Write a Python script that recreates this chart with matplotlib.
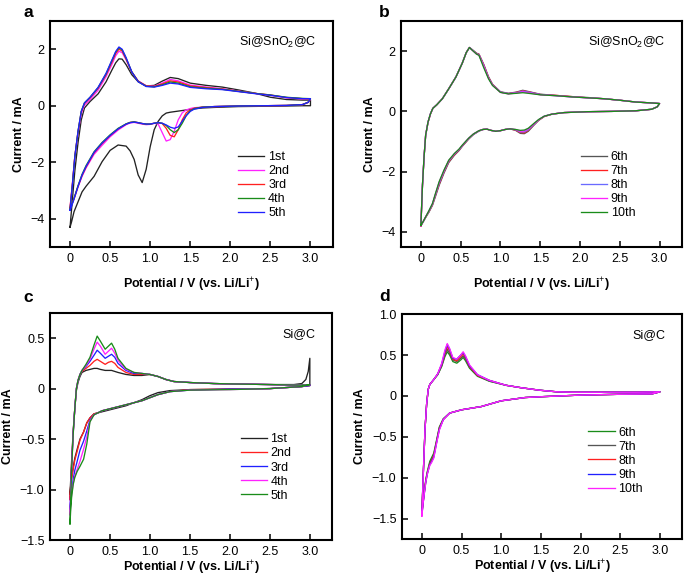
import matplotlib
matplotlib.use('Agg')
import matplotlib.pyplot as plt

plt.rcParams['font.family'] = ['Liberation Sans', 'DejaVu Sans']
plt.rcParams['mathtext.fontset'] = 'custom'
plt.rcParams['mathtext.rm'] = 'Liberation Sans'
plt.rcParams['mathtext.bf'] = 'Liberation Sans:bold'
plt.rcParams['axes.unicode_minus'] = True

# ---- panel a: Si@SnO2@C, cycles 1-5 ----
a_an_v = [0, 0.03, 0.06, 0.1, 0.14, 0.18, 0.25, 0.35, 0.45, 0.52, 0.57, 0.61, 0.65, 0.7, 0.77,
          0.85, 0.95, 1.05, 1.15, 1.25, 1.35, 1.5, 1.7, 1.9, 2.1, 2.3, 2.5, 2.7, 2.9, 3.0]
a1_an = [-4.3, -3.3, -2.3, -1.3, -0.5, -0.08, 0.15, 0.42, 0.85, 1.25, 1.52, 1.66, 1.65, 1.45, 1.1,
         0.85, 0.7, 0.72, 0.87, 1.0, 0.96, 0.8, 0.72, 0.66, 0.56, 0.45, 0.3, 0.22, 0.2, 0.2]
a2_an = [-3.6, -2.75, -1.8, -0.95, -0.28, 0.02, 0.22, 0.55, 1.03, 1.45, 1.77, 1.93, 1.88, 1.62, 1.19,
         0.88, 0.71, 0.69, 0.8, 0.93, 0.88, 0.73, 0.66, 0.6, 0.52, 0.44, 0.37, 0.28, 0.24, 0.23]
a3_an = [-3.62, -2.75, -1.78, -0.92, -0.22, 0.08, 0.28, 0.62, 1.1, 1.53, 1.85, 2.0, 1.94, 1.65, 1.2,
         0.87, 0.7, 0.68, 0.77, 0.88, 0.84, 0.7, 0.64, 0.59, 0.51, 0.44, 0.38, 0.29, 0.25, 0.24]
a4_an = [-3.68, -2.8, -1.8, -0.9, -0.2, 0.1, 0.3, 0.64, 1.13, 1.58, 1.9, 2.05, 1.98, 1.68, 1.2,
         0.86, 0.69, 0.67, 0.74, 0.84, 0.8, 0.67, 0.62, 0.58, 0.51, 0.44, 0.38, 0.3, 0.26, 0.25]
a5_an = [-3.7, -2.8, -1.8, -0.9, -0.2, 0.1, 0.3, 0.65, 1.15, 1.6, 1.92, 2.08, 2.0, 1.7, 1.2,
         0.85, 0.68, 0.66, 0.72, 0.8, 0.77, 0.65, 0.6, 0.57, 0.5, 0.43, 0.37, 0.29, 0.25, 0.25]

a_ca_v = [3.0, 2.97, 2.9, 2.7, 2.4, 2.1, 1.8, 1.65, 1.55, 1.5, 1.45, 1.4, 1.35, 1.3, 1.25, 1.2, 1.15, 1.1,
          1.05, 1.0, 0.95, 0.9, 0.85, 0.8, 0.75, 0.7, 0.6, 0.5, 0.4, 0.3, 0.2, 0.15, 0.1, 0.05, 0.02, 0.0]
a1_ca = [0.0, 0.0, 0.0, -0.01, -0.02, -0.03, -0.06, -0.08, -0.11, -0.13, -0.15, -0.17, -0.19, -0.21, -0.23, -0.26, -0.36, -0.55,
         -0.85, -1.45, -2.25, -2.72, -2.45, -1.9, -1.6, -1.43, -1.39, -1.58, -1.98, -2.5, -2.85, -3.05, -3.4, -3.75, -4.1, -4.3]
a2_ca = [0.23, 0.11, 0.04, 0.01, 0.0, -0.01, -0.03, -0.05, -0.07, -0.1, -0.15, -0.25, -0.5, -0.9, -1.2, -1.25, -0.95, -0.65,
         -0.62, -0.66, -0.67, -0.65, -0.62, -0.59, -0.61, -0.67, -0.86, -1.1, -1.4, -1.72, -2.2, -2.5, -2.88, -3.3, -3.5, -3.6]
a3_ca = [0.24, 0.12, 0.04, 0.01, 0.0, -0.01, -0.03, -0.05, -0.09, -0.15, -0.25, -0.5, -0.85, -1.1, -1.05, -0.8, -0.63, -0.6,
         -0.62, -0.65, -0.65, -0.63, -0.6, -0.57, -0.59, -0.65, -0.82, -1.06, -1.34, -1.67, -2.17, -2.47, -2.85, -3.28, -3.5, -3.62]
a4_ca = [0.25, 0.12, 0.04, 0.01, 0.0, -0.01, -0.03, -0.05, -0.1, -0.18, -0.35, -0.62, -0.85, -0.95, -0.85, -0.7, -0.62, -0.6,
         -0.62, -0.65, -0.65, -0.63, -0.6, -0.57, -0.59, -0.64, -0.8, -1.03, -1.3, -1.63, -2.12, -2.43, -2.83, -3.28, -3.52, -3.68]
a5_ca = [0.25, 0.12, 0.04, 0.01, 0.0, -0.01, -0.03, -0.06, -0.12, -0.2, -0.35, -0.55, -0.75, -0.8, -0.76, -0.68, -0.62, -0.6,
         -0.62, -0.65, -0.65, -0.63, -0.6, -0.58, -0.6, -0.65, -0.82, -1.05, -1.32, -1.65, -2.15, -2.45, -2.85, -3.3, -3.55, -3.7]

# ---- panel b: Si@SnO2@C, cycles 6-10 ----
b_an_v = [0, 0.02, 0.04, 0.06, 0.09, 0.12, 0.15, 0.2, 0.27, 0.35, 0.44, 0.52, 0.57, 0.61, 0.65, 0.7, 0.73,
          0.79, 0.85, 0.9, 1.0, 1.1, 1.2, 1.28, 1.35, 1.5, 1.7, 1.9, 2.1, 2.3, 2.5, 2.7, 2.9, 3.0]
b6_an = [-3.8, -2.45, -1.52, -0.8, -0.36, -0.09, 0.1, 0.22, 0.42, 0.75, 1.14, 1.6, 1.95, 2.12, 2.04, 1.93, 1.9,
         1.56, 1.15, 0.9, 0.65, 0.6, 0.64, 0.7, 0.66, 0.57, 0.53, 0.49, 0.46, 0.42, 0.37, 0.31, 0.28, 0.26]
b7_an = [-3.8, -2.45, -1.51, -0.79, -0.36, -0.09, 0.1, 0.22, 0.42, 0.75, 1.14, 1.6, 1.95, 2.12, 2.03, 1.92, 1.89,
         1.54, 1.13, 0.89, 0.64, 0.59, 0.63, 0.68, 0.65, 0.56, 0.53, 0.49, 0.45, 0.42, 0.37, 0.31, 0.28, 0.26]
b8_an = [-3.79, -2.44, -1.51, -0.79, -0.35, -0.08, 0.1, 0.22, 0.42, 0.75, 1.14, 1.6, 1.95, 2.12, 2.03, 1.91, 1.88,
         1.52, 1.11, 0.88, 0.64, 0.59, 0.62, 0.67, 0.64, 0.56, 0.52, 0.48, 0.45, 0.42, 0.37, 0.31, 0.28, 0.26]
b9_an = [-3.79, -2.44, -1.5, -0.78, -0.35, -0.08, 0.1, 0.22, 0.42, 0.75, 1.14, 1.6, 1.95, 2.12, 2.02, 1.9, 1.87,
         1.5, 1.1, 0.87, 0.63, 0.58, 0.61, 0.65, 0.62, 0.55, 0.52, 0.48, 0.45, 0.42, 0.37, 0.31, 0.28, 0.26]
b10_an = [-3.78, -2.44, -1.5, -0.78, -0.35, -0.08, 0.1, 0.22, 0.42, 0.75, 1.14, 1.6, 1.95, 2.12, 2.02, 1.9, 1.86,
          1.45, 1.08, 0.86, 0.63, 0.58, 0.6, 0.62, 0.6, 0.55, 0.52, 0.48, 0.45, 0.42, 0.37, 0.31, 0.28, 0.26]

b_ca_v = [3.0, 2.97, 2.9, 2.7, 2.4, 2.1, 1.8, 1.65, 1.55, 1.48, 1.42, 1.35, 1.3, 1.25, 1.19, 1.12, 1.06, 1.0, 0.94,
          0.88, 0.83, 0.78, 0.73, 0.66, 0.6, 0.52, 0.48, 0.42, 0.35, 0.29, 0.23, 0.18, 0.145, 0.1, 0.06, 0.03, 0.0]
b6_ca = [0.26, 0.15, 0.07, 0.02, 0.0, -0.01, -0.04, -0.09, -0.17, -0.3, -0.46, -0.66, -0.74, -0.73, -0.63, -0.58, -0.6, -0.64, -0.66,
         -0.63, -0.59, -0.6, -0.65, -0.77, -0.92, -1.16, -1.3, -1.46, -1.7, -2.05, -2.45, -2.85, -3.12, -3.35, -3.52, -3.66, -3.8]
b7_ca = [0.26, 0.15, 0.07, 0.02, 0.0, -0.01, -0.04, -0.09, -0.17, -0.29, -0.44, -0.63, -0.71, -0.7, -0.62, -0.58, -0.6, -0.64, -0.66,
         -0.63, -0.59, -0.6, -0.65, -0.76, -0.91, -1.15, -1.28, -1.44, -1.67, -2.01, -2.41, -2.81, -3.1, -3.33, -3.51, -3.65, -3.8]
b8_ca = [0.26, 0.15, 0.07, 0.02, 0.0, -0.01, -0.04, -0.09, -0.16, -0.28, -0.43, -0.61, -0.68, -0.68, -0.61, -0.58, -0.6, -0.64, -0.66,
         -0.63, -0.59, -0.6, -0.65, -0.76, -0.9, -1.14, -1.27, -1.42, -1.65, -1.99, -2.38, -2.79, -3.08, -3.32, -3.5, -3.65, -3.79]
b9_ca = [0.26, 0.15, 0.07, 0.02, 0.0, -0.01, -0.04, -0.09, -0.16, -0.28, -0.42, -0.58, -0.65, -0.66, -0.6, -0.58, -0.6, -0.64, -0.66,
         -0.63, -0.59, -0.6, -0.64, -0.75, -0.89, -1.13, -1.26, -1.41, -1.63, -1.97, -2.35, -2.77, -3.07, -3.31, -3.5, -3.65, -3.79]
b10_ca = [0.26, 0.15, 0.07, 0.02, 0.0, -0.01, -0.04, -0.09, -0.16, -0.27, -0.4, -0.56, -0.62, -0.63, -0.6, -0.58, -0.6, -0.64, -0.66,
          -0.63, -0.59, -0.6, -0.64, -0.75, -0.89, -1.12, -1.25, -1.4, -1.62, -1.95, -2.33, -2.75, -3.06, -3.3, -3.5, -3.65, -3.78]

# ---- panel c: Si@C, cycles 1-5 ----
c_an_v = [0, 0.02, 0.04, 0.06, 0.08, 0.1, 0.125, 0.15, 0.2, 0.25, 0.3, 0.34, 0.38, 0.44, 0.48, 0.52, 0.56,
          0.6, 0.7, 0.8, 0.9, 1.0, 1.1, 1.2, 1.3, 1.5, 1.8, 2.1, 2.5, 2.8, 2.9, 2.95, 2.98, 3.0]
c1_an = [-1.05, -0.72, -0.42, -0.2, -0.02, 0.06, 0.12, 0.16, 0.18, 0.19, 0.2, 0.2, 0.19, 0.18, 0.18, 0.18, 0.17,
         0.16, 0.14, 0.13, 0.13, 0.14, 0.12, 0.09, 0.07, 0.06, 0.05, 0.045, 0.04, 0.04, 0.05, 0.09, 0.17, 0.3]
c2_an = [-1.1, -0.75, -0.43, -0.2, 0.0, 0.08, 0.14, 0.17, 0.2, 0.23, 0.27, 0.29, 0.27, 0.24, 0.26, 0.27, 0.25,
         0.21, 0.16, 0.14, 0.14, 0.14, 0.12, 0.09, 0.07, 0.06, 0.05, 0.045, 0.04, 0.035, 0.035, 0.035, 0.035, 0.035]
c3_an = [-1.2, -0.78, -0.44, -0.2, 0.0, 0.08, 0.14, 0.18, 0.22, 0.27, 0.33, 0.38, 0.35, 0.3, 0.32, 0.34, 0.31,
         0.25, 0.18, 0.15, 0.15, 0.14, 0.12, 0.09, 0.07, 0.06, 0.05, 0.045, 0.04, 0.035, 0.035, 0.035, 0.035, 0.04]
c4_an = [-1.25, -0.8, -0.45, -0.2, 0.0, 0.08, 0.14, 0.18, 0.23, 0.29, 0.39, 0.46, 0.42, 0.34, 0.37, 0.4, 0.35,
         0.28, 0.19, 0.16, 0.15, 0.14, 0.12, 0.09, 0.07, 0.06, 0.05, 0.045, 0.04, 0.035, 0.035, 0.035, 0.035, 0.04]
c5_an = [-1.34, -0.8, -0.45, -0.2, 0.0, 0.08, 0.14, 0.18, 0.24, 0.31, 0.43, 0.52, 0.47, 0.39, 0.42, 0.45, 0.39,
         0.3, 0.2, 0.16, 0.15, 0.14, 0.12, 0.09, 0.07, 0.06, 0.05, 0.045, 0.04, 0.035, 0.035, 0.035, 0.035, 0.04]

c_ca_v = [3.0, 2.9, 2.5, 2.0, 1.5, 1.25, 1.1, 1.0, 0.9, 0.8, 0.7, 0.6, 0.5, 0.4, 0.35, 0.3, 0.25, 0.21, 0.17,
          0.125, 0.09, 0.06, 0.04, 0.02, 0.01, 0.0]
c1_ca = [0.03, 0.02, 0.0, -0.005, -0.01, -0.02, -0.04, -0.07, -0.11, -0.14, -0.17, -0.19, -0.21, -0.23, -0.24, -0.25, -0.29, -0.34, -0.43,
         -0.5, -0.6, -0.69, -0.78, -0.88, -0.95, -1.05]
c2_ca = [0.03, 0.02, 0.0, -0.005, -0.01, -0.03, -0.06, -0.09, -0.12, -0.14, -0.16, -0.18, -0.2, -0.22, -0.24, -0.25, -0.29, -0.34, -0.43,
         -0.51, -0.62, -0.71, -0.8, -0.9, -0.98, -1.1]
c3_ca = [0.03, 0.02, 0.0, -0.005, -0.015, -0.03, -0.06, -0.09, -0.12, -0.14, -0.16, -0.18, -0.2, -0.22, -0.24, -0.26, -0.31, -0.42, -0.52,
         -0.61, -0.72, -0.81, -0.9, -1.02, -1.1, -1.2]
c4_ca = [0.04, 0.02, 0.0, -0.01, -0.015, -0.03, -0.06, -0.09, -0.12, -0.14, -0.16, -0.18, -0.2, -0.22, -0.24, -0.26, -0.32, -0.48, -0.6,
         -0.72, -0.8, -0.87, -0.94, -1.05, -1.13, -1.25]
c5_ca = [0.04, 0.02, 0.0, -0.01, -0.015, -0.03, -0.06, -0.09, -0.12, -0.14, -0.16, -0.18, -0.2, -0.22, -0.24, -0.26, -0.33, -0.55, -0.7,
         -0.77, -0.82, -0.88, -0.95, -1.08, -1.18, -1.34]

# ---- panel d: Si@C, cycles 6-10 ----
d_an_v = [0, 0.02, 0.04, 0.06, 0.08, 0.1, 0.15, 0.2, 0.25, 0.29, 0.32, 0.35, 0.39, 0.44, 0.49, 0.52, 0.55,
          0.6, 0.7, 0.85, 1.06, 1.25, 1.48, 1.7, 1.9, 2.3, 2.7, 3.0]
d6_an = [-1.42, -0.9, -0.4, -0.1, 0.08, 0.14, 0.2, 0.26, 0.36, 0.48, 0.54, 0.5, 0.42, 0.4, 0.44, 0.47, 0.43,
         0.34, 0.24, 0.18, 0.13, 0.1, 0.07, 0.05, 0.045, 0.045, 0.045, 0.05]
d7_an = [-1.43, -0.9, -0.4, -0.1, 0.08, 0.14, 0.2, 0.26, 0.37, 0.5, 0.57, 0.52, 0.44, 0.42, 0.46, 0.49, 0.45,
         0.35, 0.25, 0.18, 0.13, 0.1, 0.07, 0.05, 0.045, 0.045, 0.045, 0.05]
d8_an = [-1.45, -0.9, -0.4, -0.1, 0.08, 0.14, 0.2, 0.27, 0.38, 0.52, 0.6, 0.55, 0.45, 0.43, 0.48, 0.51, 0.47,
         0.36, 0.25, 0.19, 0.13, 0.1, 0.07, 0.05, 0.045, 0.045, 0.045, 0.05]
d9_an = [-1.46, -0.9, -0.4, -0.1, 0.08, 0.14, 0.2, 0.27, 0.39, 0.54, 0.63, 0.57, 0.46, 0.45, 0.5, 0.53, 0.48,
         0.37, 0.26, 0.19, 0.13, 0.1, 0.07, 0.05, 0.045, 0.045, 0.045, 0.05]
d10_an = [-1.47, -0.9, -0.4, -0.1, 0.08, 0.14, 0.2, 0.27, 0.4, 0.56, 0.64, 0.58, 0.47, 0.45, 0.5, 0.54, 0.49,
          0.38, 0.26, 0.19, 0.13, 0.1, 0.07, 0.05, 0.045, 0.045, 0.045, 0.05]

d_ca_v = [3.0, 2.9, 2.5, 2.0, 1.5, 1.3, 1.0, 0.75, 0.5, 0.35, 0.27, 0.22, 0.19, 0.15, 0.12, 0.1, 0.07, 0.05, 0.03, 0.015, 0.0]
d6_ca = [0.05, 0.025, 0.02, 0.01, -0.01, -0.02, -0.06, -0.13, -0.17, -0.21, -0.28, -0.38, -0.52, -0.7, -0.76, -0.8, -0.92, -1.02, -1.17, -1.3, -1.42]
d7_ca = [0.05, 0.025, 0.02, 0.01, -0.01, -0.02, -0.06, -0.13, -0.17, -0.21, -0.28, -0.39, -0.53, -0.72, -0.78, -0.82, -0.93, -1.03, -1.18, -1.31, -1.43]
d8_ca = [0.05, 0.025, 0.02, 0.01, -0.01, -0.02, -0.06, -0.13, -0.17, -0.21, -0.29, -0.4, -0.54, -0.73, -0.8, -0.83, -0.94, -1.04, -1.19, -1.31, -1.45]
d9_ca = [0.05, 0.025, 0.02, 0.01, -0.01, -0.02, -0.06, -0.13, -0.17, -0.21, -0.29, -0.41, -0.55, -0.75, -0.81, -0.84, -0.95, -1.05, -1.2, -1.32, -1.46]
d10_ca = [0.05, 0.025, 0.02, 0.01, -0.01, -0.02, -0.06, -0.13, -0.17, -0.21, -0.29, -0.42, -0.56, -0.76, -0.82, -0.85, -0.95, -1.05, -1.2, -1.32, -1.47]

labels_1_5 = ['1st', '2nd', '3rd', '4th', '5th']
labels_6_10 = ['6th', '7th', '8th', '9th', '10th']
x_ticks = [0, 0.5, 1.0, 1.5, 2.0, 2.5, 3.0]
x_ticklabels = ['0', '0.5', '1.0', '1.5', '2.0', '2.5', '3.0']
ab_yticks = [-4, -2, 0, 2]
ab_yticklabels = ['\u22124', '\u22122', '0', '2']
c_yticks = [-1.5, -1.0, -0.5, 0, 0.5]
c_yticklabels = ['\u22121.5', '\u22121.0', '\u22120.5', '0', '0.5']
d_yticks = [-1.5, -1.0, -0.5, 0, 0.5, 1.0]
d_yticklabels = ['\u22121.5', '\u22121.0', '\u22120.5', '0', '0.5', '1.0']

BLACK = '#222222'
MAG = '#ff22ff'
RED = '#ff2020'
GREEN = '#1a8c1a'
BLUE = '#2020ff'

fig = plt.figure(figsize=(6.85, 5.78), dpi=100)
ax_a = fig.add_axes([0.073, 0.5727, 0.413, 0.391])
ax_b = fig.add_axes([0.5854, 0.5727, 0.410, 0.391])
ax_c = fig.add_axes([0.073, 0.0657, 0.412, 0.393])
ax_d = fig.add_axes([0.5869, 0.0675, 0.409, 0.389])


def draw(ax, an_v, an_list, ca_v, ca_list, colors, labels):
    for an, ca, col, lab in zip(an_list, ca_list, colors, labels):
        ax.plot(an_v + ca_v, an + ca, color=col, lw=0.95, label=lab)


draw(ax_a, a_an_v, [a1_an, a2_an, a3_an, a4_an, a5_an], a_ca_v, [a1_ca, a2_ca, a3_ca, a4_ca, a5_ca],
     [BLACK, MAG, RED, GREEN, BLUE], labels_1_5)
draw(ax_b, b_an_v, [b6_an, b7_an, b8_an, b9_an, b10_an], b_ca_v, [b6_ca, b7_ca, b8_ca, b9_ca, b10_ca],
     ['#555555', RED, '#6a6aff', MAG, GREEN], labels_6_10)
draw(ax_c, c_an_v, [c1_an, c2_an, c3_an, c4_an, c5_an], c_ca_v, [c1_ca, c2_ca, c3_ca, c4_ca, c5_ca],
     [BLACK, RED, BLUE, MAG, GREEN], labels_1_5)
draw(ax_d, d_an_v, [d6_an, d7_an, d8_an, d9_an, d10_an], d_ca_v, [d6_ca, d7_ca, d8_ca, d9_ca, d10_ca],
     [GREEN, '#555555', RED, BLUE, MAG], labels_6_10)

# axes, y range, ticks, sample name, panel letter, legend anchor, xlabel pad
setup = [
    (ax_a, (-5, 3), ab_yticks, ab_yticklabels, 'Si@SnO$_2$@C', 'a', (0.665, 0.425), 8),
    (ax_b, (-4.5, 3), ab_yticks, ab_yticklabels, 'Si@SnO$_2$@C', 'b', (0.64, 0.425), 8),
    (ax_c, (-1.5, 0.75), c_yticks, c_yticklabels, 'Si@C', 'c', (0.675, 0.47), 1),
    (ax_d, (-1.75, 1.0), d_yticks, d_yticklabels, 'Si@C', 'd', (0.665, 0.5), 1),
]
letter_pos = {'a': (0.034, 0.978), 'b': (0.553, 0.978), 'c': (0.034, 0.485), 'd': (0.553, 0.487)}

for ax, ylim, yt, ytl, name, letter, leg_xy, xpad in setup:
    ax.set_xlim(-0.25, 3.28)
    ax.set_ylim(*ylim)
    ax.set_xticks(x_ticks)
    ax.set_xticklabels(x_ticklabels)
    ax.set_yticks(yt)
    ax.set_yticklabels(ytl)
    ax.tick_params(direction='in', length=4, width=1.1, labelsize=9, pad=4)
    for sp in ax.spines.values():
        sp.set_linewidth(1.5)
    ax.set_xlabel('Potential / V (vs. Li/Li$^{+}$)', fontsize=9, fontweight='bold', labelpad=xpad)
    ax.set_ylabel('Current / mA', fontsize=9, fontweight='bold', labelpad=4)
    ax.text(0.94, 0.905, name, transform=ax.transAxes, ha='right', va='center', fontsize=9)
    ax.legend(loc='upper left', bbox_to_anchor=leg_xy, frameon=False, fontsize=9,
              handlelength=2.1, handletextpad=0.3, labelspacing=0.17, borderpad=0, borderaxespad=0)
    fx, fy = letter_pos[letter]
    fig.text(fx, fy, letter, fontsize=12.5, fontweight='bold', ha='left', va='center')

fig.savefig('out.png', dpi=100)
